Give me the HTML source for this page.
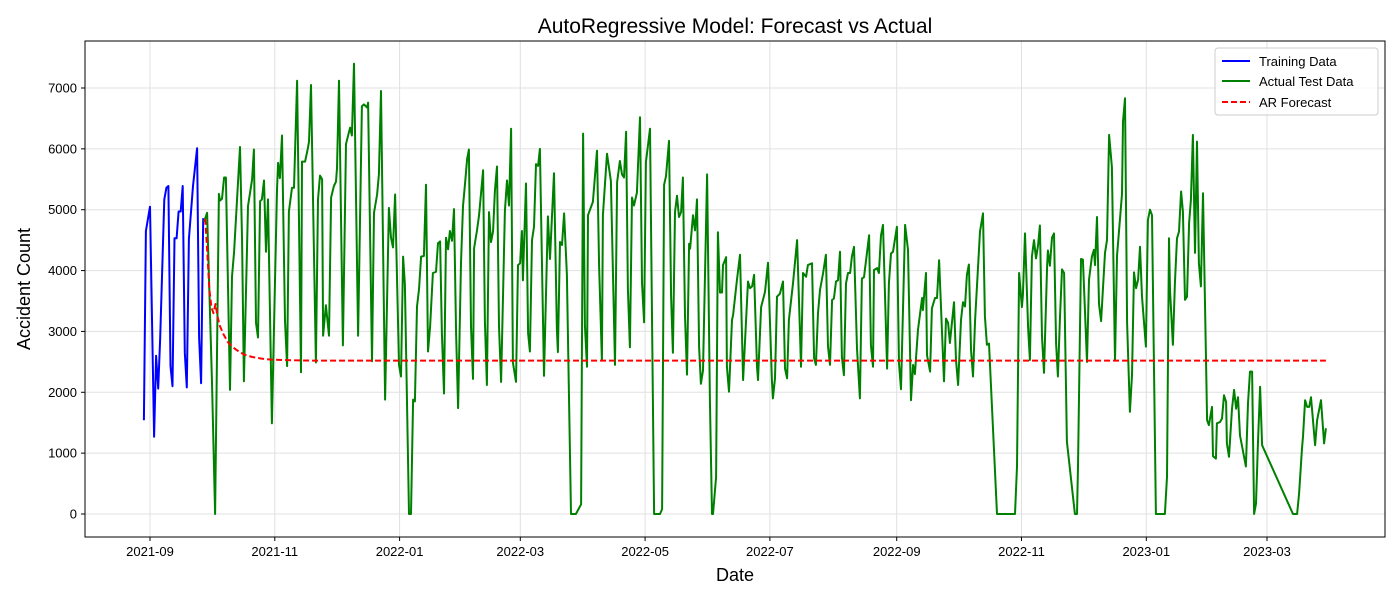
<!DOCTYPE html>
<html><head><meta charset="utf-8"><style>
html,body{margin:0;padding:0;background:#fff;}
svg{display:block;font-family:"Liberation Sans","DejaVu Sans",sans-serif;}
</style></head><body>
<svg id="chart" width="1400" height="600" viewBox="0 0 1400 600" xmlns="http://www.w3.org/2000/svg">
<rect x="0" y="0" width="1400" height="600" fill="#fff"/>
<text x="735" y="33" font-size="21" text-anchor="middle" fill="#000">AutoRegressive Model: Forecast vs Actual</text>
<g id="grid"></g>
<g id="series"></g>
<rect x="85" y="41" width="1300" height="496" fill="none" stroke="#000" stroke-width="1"/>
<g id="ticks"></g>
<text x="735" y="581" font-size="18" text-anchor="middle">Date</text>
<text x="30" y="289" font-size="18" text-anchor="middle" transform="rotate(-90 30 289)">Accident Count</text>
<g>
<rect x="1215" y="48" width="163" height="67" rx="3" fill="#fff" fill-opacity="0.8" stroke="#ccc"/>
<g><line x1="1222" y1="61" x2="1250" y2="61" stroke="#0000ff" stroke-width="2"/><text x="1259" y="66" font-size="13">Training Data</text></g>
<g><line x1="1222" y1="81" x2="1250" y2="81" stroke="#008000" stroke-width="2"/><text x="1259" y="86" font-size="13">Actual Test Data</text></g>
<g><line x1="1222" y1="102" x2="1250" y2="102" stroke="#ff0000" stroke-width="2" stroke-dasharray="6,3"/><text x="1259" y="107" font-size="13">AR Forecast</text></g>
</g>
</svg>
<script>
// days since 2021-09-01
const trainDays=[-3,-2,0,2,3,4,5,7,8,9,10,11,12,13,14,15,16,17,18,19,21,23,24,25,26];
const trainValues=[1540,4650,5050,1270,2600,2060,2900,5170,5360,5390,2430,2100,4530,4530,4970,4970,5390,2650,2080,4520,5390,6010,2900,2150,4860];
const testDays=[26.4,27.9,30.3,31.8,33.7,34.2,35.2,36.2,37.1,39.1,40.1,41.1,44,45,45.9,47.9,49.9,50.8,51.8,52.8,53.8,54.7,55.7,56.7,57.7,59.6,62.1,62.6,63.5,64.5,66,67,67.9,69.4,70.4,71.9,73.8,74.3,75.8,77.2,77.7,78.7,81.1,82.1,83.1,84.1,84.6,86,87.5,88.5,89.9,
90.9,91.4,92.4,94.3,95.8,97.8,98.7,99.7,101.7,103.6,104.6,106.1,106.6,108.5,109.5,111,111.9,112.9,114.9,116.8,117.8,118.8,119.8,121.7,122.7,123.7,124.6,126.6,127.6,128.6,129.5,130.5,131.5,132.5,133.9,134.9,135.9,136.9,138.3,139.8,140.8,141.8,142.7,143.7,144.7,145.7,146.6,147.6,148.6,149.6,150.6,152,153,154,155,155.9,156.9,157.9,158.4,159.8,160.8,162.8,163.7,164.7,165.7,166.7,167.7,168.6,169.6,170.6,171.6,173.5,174.5,175.5,176.5,177.4,178.9,179.9,180.9,181.8,182.3,183.8,184.8,185.7,
186.7,187.7,188.7,189.7,190.6,192.6,194.5,195.5,197.5,198.9,199.4,200.4,201.4,202.4,203.8,205.8,208.2,210.7,211.7,212.6,213.6,214.1,216.5,218.5,219.5,220.9,221.4,223.4,225.3,227.3,228.3,229.7,230.7,231.7,232.7,233.6,234.6,235.6,236.6,238,239.5,240.5,241.5,242.4,244.4,246.4,249.3,250.3,251.3,252.2,253.7,254.7,255.6,256.6,257.6,258.6,259.6,260.5,261.5,262.5,263.5,264,265.4,266.4,267.4,268.4,269.3,270.3,272.3,273.7,274.7,275.2,276.7,277.6,278.6,279.6,
280.1,281.6,282,283,284.5,285,286.9,288.4,289.9,292.3,293.3,294.3,295.3,296.7,297.2,298.7,300.6,302.1,304,304.5,305.5,306.5,307.9,309.4,310.4,311.4,312.3,314.3,316.3,317.7,318.2,319.2,320.7,321.6,323.6,324.6,325.5,326.5,327.5,329,330.4,331.4,332.4,333.4,334.3,335.3,336.3,337.3,338.2,339.2,340.2,341.2,342.2,343.1,344.1,345.6,347,348,349,351.5,352.4,353.4,353.9,355.4,356.3,357.3,358.3,360.3,361.2,362.2,363.2,365.1,366.1,367.1,369.1,370.5,372,373,373.9,
375.4,377.4,377.8,379.3,379.8,381.3,382.2,383.7,384.7,385.7,388.1,389.1,390.1,391,393,394,395,396.4,397.4,398.4,399.3,400.3,401.3,402.3,403.3,405.7,407.2,408.1,409.1,410.1,414,422.8,423.8,424.8,426.2,426.7,427.7,429.2,430.1,431.1,432.1,433.1,434.1,435,436,437,438.5,438.9,439.9,440.9,441.9,442.9,443.8,444.8,445.8,446.8,448.2,452.1,453.1,453.6,455.1,456,458,459,460.4,461.4,461.9,462.9,463.9,464.9,466.8,467.8,468.8,470.2,
471.7,472.7,475.1,475.6,476.6,477.6,479,480,481,482,483,483.9,484.9,486.8,487.8,488.8,489.8,491.7,496.1,497.1,498.1,498.6,500,501,502,503,504,504.9,505.9,506.9,507.9,508.8,509.8,510.8,511.8,512.7,513.7,514.7,516.7,517.6,519.1,519.6,521,521.5,523,524,525,526,526.4,527.4,528.9,529.9,530.9,531.8,532.8,535.7,536.7,537.7,538.7,539.7,540.6,541.6,542.6,543.6,558.7,560.7,561.7,563.1,563.6,564.6,565.6,566.6,567.5,569.5,570.5,572.4,573.9,574.8];
const testValues=[4800,4950,2160,0,5260,5150,5180,5530,5530,2040,3900,4310,6030,4470,2180,5060,5500,5990,3140,2900,5140,5170,5480,4310,5170,1490,5330,5770,5520,6220,3170,2430,4970,5360,5360,7120,2330,5790,5790,6010,6120,7050,2490,5170,5560,5500,2930,3430,2930,5200,5390,
5460,5680,7120,2770,6080,6350,6220,7400,2930,6700,6730,6680,6760,2510,4950,5250,5580,6950,1880,5030,4540,4380,5250,2450,2260,4230,3770,0,0,1880,1850,3410,3690,4230,4240,5410,2670,3080,3960,3980,4450,4480,2970,1980,4540,4350,4650,4490,5010,2970,1740,4130,5060,5440,5830,5990,3080,2220,4370,4650,4900,5650,3160,2120,4960,4470,4650,5310,5710,3080,2170,4980,5480,5070,6330,2490,2170,4090,4120,4650,3840,5430,2970,2670,
4500,4720,5750,5720,6000,2270,4890,4190,5600,3020,2660,4470,4420,4940,3930,0,0,160,6250,3100,2420,4910,5130,5970,4080,2520,4910,5920,5470,2450,5450,5800,5580,5530,6280,3690,2740,5200,5070,5280,6520,3800,3150,5780,6330,0,0,80,5410,5550,6130,3560,2650,4960,5230,4880,4960,5530,3250,2290,4440,4360,4910,4660,5170,2740,2140,2360,5580,1880,0,0,610,4630,3640,3640,
4090,4220,2420,2010,3190,3270,3840,4260,2200,3820,3710,3740,3930,2420,2200,3400,3650,4130,2200,1900,2230,3570,3620,3820,2390,2230,3190,3790,4500,2970,2420,3960,3900,4090,4120,2560,2450,3300,3680,3960,4260,2750,2450,3520,3540,3820,3840,4310,2580,2280,3790,3960,3960,4230,4390,2720,1900,3870,3890,4580,2780,2420,4010,4040,3960,4580,4750,2390,3790,4280,4310,4720,2470,2050,4750,4340,1870,2450,2300,
3030,3550,3350,3960,2610,2340,3380,3550,3550,4170,2180,3210,3140,2810,3480,2530,2120,3190,3480,3410,3930,4100,2700,2260,3190,4640,4940,3250,2780,2800,0,0,780,3960,3400,3600,4610,3060,2530,4230,4500,4200,4420,4740,2910,2320,4070,4330,4080,4540,4610,2800,2260,3240,4020,3960,1190,0,0,780,4190,4180,2500,3850,4230,4340,4090,4880,3450,3170,4290,4500,6230,5700,
2520,4240,5260,6450,6830,3140,1680,2280,3970,3710,3850,4390,3570,2750,4830,5000,4910,0,0,610,4530,3680,2780,3790,4530,4640,5300,4970,3520,3570,4780,5160,6230,4290,6120,4120,3740,5270,1540,1460,1760,950,910,1490,1510,1570,1950,1840,1160,940,1730,2040,1730,1920,1290,780,1820,2340,2340,0,170,1190,2090,1130,0,0,340,1080,1270,1870,1760,1760,1920,1130,1540,1870,1160,1410];
const forecastDays=[27,28,29,30,31,32,33,34,36,38,40,43,46,50,55,60,70,80,100,574.8];
const forecastValues=[4850,4300,3700,3400,3300,3450,3250,3100,2950,2830,2750,2680,2620,2580,2550,2535,2525,2520,2520,2520];
const yTicks=[0,1000,2000,3000,4000,5000,6000,7000];
const xTickLabels=["2021-09","2021-11","2022-01","2022-03","2022-05","2022-07","2022-09","2022-11","2023-01","2023-03"];
const xTickDays=[0,61,122,181,242,303,365,426,487,546];

const NS="http://www.w3.org/2000/svg";
function xs(d){return 150+d*2.0458;}
function ys(v){return 514-v*0.060857;}
function mk(tag,attrs,parent){const e=document.createElementNS(NS,tag);for(const k in attrs)e.setAttribute(k,attrs[k]);parent.appendChild(e);return e;}
const grid=document.getElementById('grid'),ticks=document.getElementById('ticks'),series=document.getElementById('series');
yTicks.forEach(v=>{
  const y=ys(v);
  const g=mk('line',{x1:85,x2:1385,y1:y,y2:y,stroke:'#e0e0e0','stroke-width':1},grid);
  
  
  mk('line',{x1:81,x2:85,y1:y,y2:y,stroke:'#000'},ticks);
  const t=mk('text',{x:77,y:y+4.5,'font-size':13,'text-anchor':'end'},ticks);
  t.textContent=v;
  
  
});
xTickDays.forEach((d,i)=>{
  const x=xs(d);
  const g=mk('line',{x1:x,x2:x,y1:41,y2:537,stroke:'#e0e0e0','stroke-width':1},grid);
  
  
  mk('line',{x1:x,x2:x,y1:537,y2:541,stroke:'#000'},ticks);
  const t=mk('text',{x:x,y:556,'font-size':13,'text-anchor':'middle'},ticks);
  t.textContent=xTickLabels[i];
  
  
});
function line(days,vals,color,dash,name){
  const pts=days.map((d,i)=>xs(d).toFixed(1)+','+ys(vals[i]).toFixed(1)).join(' ');
  const a={points:pts,fill:'none',stroke:color,'stroke-width':2,'stroke-linejoin':'round'};
  if(dash)a['stroke-dasharray']=dash;
  const p=mk('polyline',a,series);
  
  
}
line(trainDays,trainValues,'#0000ff',null,'training-data-line');
line(testDays,testValues,'#008000',null,'actual-test-data-line');
line(forecastDays,forecastValues,'#ff0000','6,3','ar-forecast-line');
</script>
</body></html>
